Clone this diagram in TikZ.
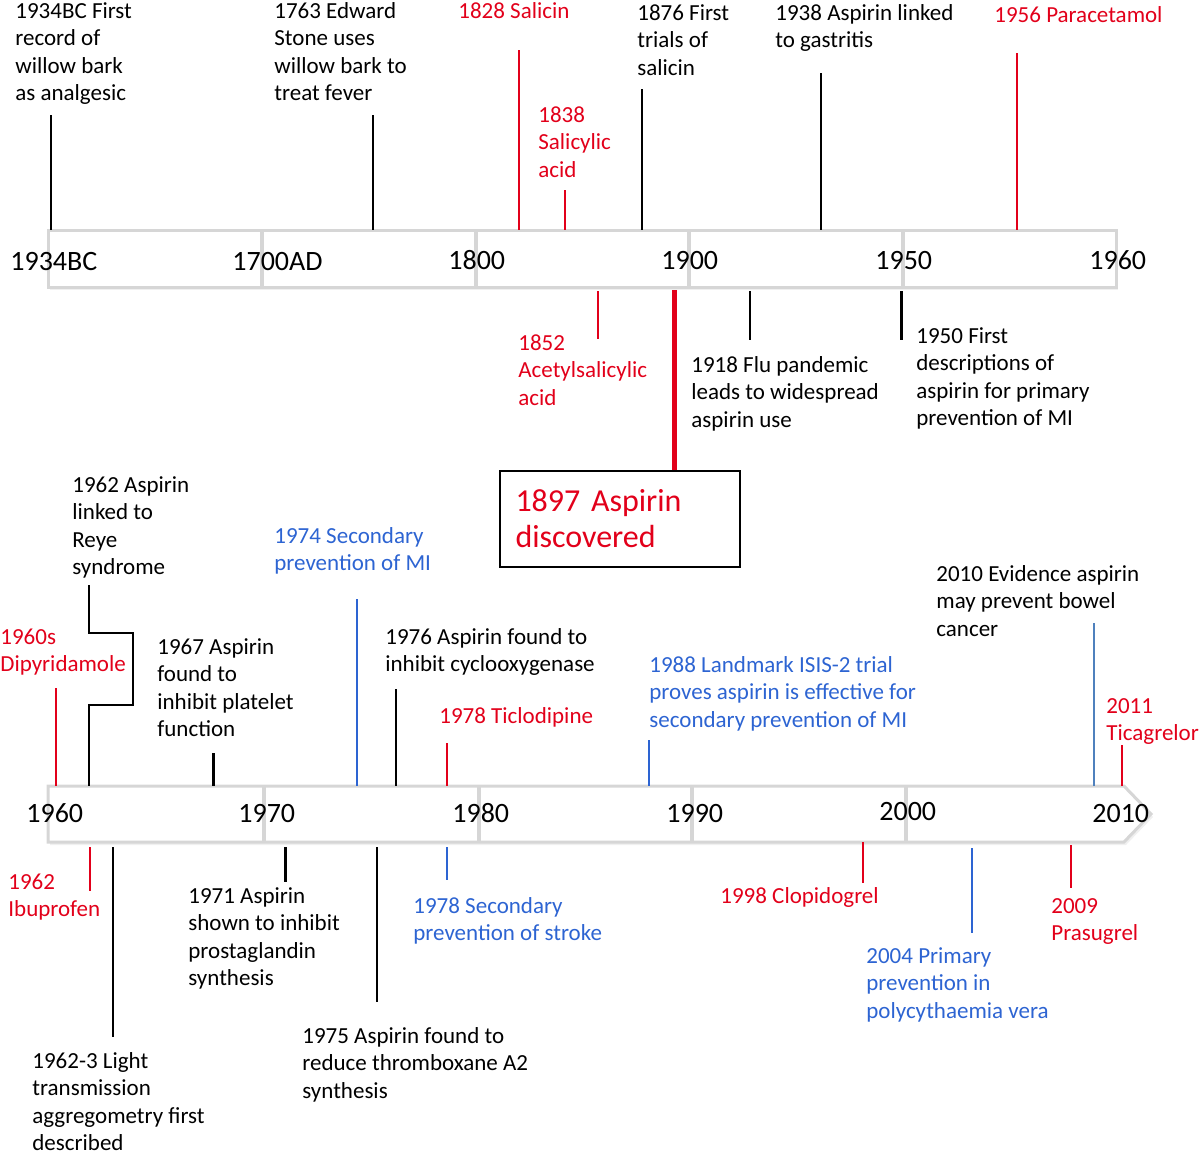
\documentclass[tikz,border=0pt]{standalone}
\usepackage{fontspec}
\setmainfont{Carlito}
\usetikzlibrary{shadows}
\definecolor{evred}{RGB}{226,0,26}
\definecolor{evblue}{RGB}{45,100,210}
\definecolor{steel}{RGB}{79,129,189}
\definecolor{bargray}{RGB}{214,214,214}
\tikzset{
  note/.style={anchor=base west, align=left, inner sep=0pt, font=\fontsize{11.5}{13.75}\selectfont},
  yearlbl/.style={anchor=base west, inner sep=0pt, font=\fontsize{14}{16}\selectfont},
  stem/.style={line width=1.2pt},
  drug/.style={evred, line width=1pt},
  trial/.style={evblue, line width=1pt},
  band/.style={draw=bargray, line width=1.5pt, fill=white, drop shadow={opacity=0.12, shadow xshift=1pt, shadow yshift=-1.5pt}},
  divline/.style={bargray, line width=2pt},
  discbox/.style={draw=black, line width=1pt, text=evred, align=left, text width=104pt, inner xsep=8pt, minimum height=48pt, font=\fontsize{16}{18}\selectfont}
}
\begin{document}
    \begin{tikzpicture}[x=0.5pt, y=-0.5pt]
      \useasboundingbox (0,0) rectangle (1200,1152);
      \node[band, minimum width=534pt, minimum height=28.5pt, outer sep=0pt] (upper) at (582,258.5) {};
      \draw[band] (48,786) coordinate (lower) -- (1124,786) -- (1151,814) -- (1124,842) -- (48,842) coordinate (lowerb) -- cycle;
      \draw[divline] (262,231) -- (262,286);
      \draw[divline] (476,231) -- (476,286);
      \draw[divline] (689,231) -- (689,286);
      \draw[divline] (903,231) -- (903,286);
      \draw[divline] (264,787) -- (264,841);
      \draw[divline] (479,787) -- (479,841);
      \draw[divline] (692,787) -- (692,841);
      \draw[divline] (906,787) -- (906,841);
      \path
        (10,270) node[yearlbl] (y1934) {1934BC}
        (232,270) node[yearlbl] (y1700) {1700AD}
        (448,269) node[yearlbl] (y1800) {1800}
        (661,269) node[yearlbl] (y1900) {1900}
        (875,269) node[yearlbl] (y1950) {1950}
        (1089,269) node[yearlbl] (y1960) {1960}
        (26,822) node[yearlbl] (z1960) {1960}
        (238,822) node[yearlbl] (z1970) {1970}
        (452,822) node[yearlbl] (z1980) {1980}
        (666,822) node[yearlbl] (z1990) {1990}
        (879,820) node[yearlbl] (z2000) {2000}
        (1092,822) node[yearlbl] (z2010) {2010};
      \path
        (15,100.5) node[note] (l1934) {1934BC First\\record of\\willow bark\\as analgesic}
        (274,100.5) node[note] (l1763) {1763 Edward\\Stone uses\\willow bark to\\treat fever}
        (458,18) node[note, evred] (l1828) {1828 Salicin}
        (538,177) node[note, evred] (l1838) {1838\\Salicylic\\acid}
        (637,75) node[note] (l1876) {1876 First\\trials of\\salicin}
        (775,47.5) node[note] (l1938) {1938 Aspirin linked\\to gastritis}
        (994,22) node[note, evred] (l1956) {1956 Paracetamol}
        (518,405) node[note, evred] (l1852) {1852\\Acetylsalicylic\\acid}
        (691,427) node[note] (l1918) {1918 Flu pandemic\\leads to widespread\\aspirin use}
        (916,425.5) node[note] (l1950) {1950 First\\descriptions of\\aspirin for primary\\prevention of MI};
      \node[discbox] (aspirin) at (619.5,519) {1897 Aspirin\\discovered};
      \path
        (72,574.5) node[note] (l1962r) {1962 Aspirin\\linked to\\Reye\\syndrome}
        (274,570.5) node[note, evblue] (l1974) {1974 Secondary\\prevention of MI}
        (0,671.5) node[note, evred] (l1960s) {1960s\\Dipyridamole}
        (157,736.5) node[note] (l1967) {1967 Aspirin\\found to\\inhibit platelet\\function}
        (385,671.5) node[note] (l1976) {1976 Aspirin found to\\inhibit cyclooxygenase}
        (439,723) node[note, evred] (l1978t) {1978 Ticlodipine}
        (649,727) node[note, evblue] (l1988) {1988 Landmark ISIS-2 trial\\proves aspirin is effective for\\secondary prevention of MI}
        (936,636) node[note] (l2010) {2010 Evidence aspirin\\may prevent bowel\\cancer}
        (1106,740.5) node[note, evred] (l2011) {2011\\Ticagrelor}
        (8,916.5) node[note, evred] (l1962i) {1962\\Ibuprofen}
        (32,1150.5) node[note] (l1962l) {1962-3 Light\\transmission\\aggregometry first\\described}
        (188,985.5) node[note] (l1971) {1971 Aspirin\\shown to inhibit\\prostaglandin\\synthesis}
        (302,1098) node[note] (l1975) {1975 Aspirin found to\\reduce thromboxane A2\\synthesis}
        (413,940.5) node[note, evblue] (l1978s) {1978 Secondary\\prevention of stroke}
        (720,903) node[note, evred] (l1998) {1998 Clopidogrel}
        (866,1018) node[note, evblue] (l2004) {2004 Primary\\prevention in\\polycythaemia vera}
        (1051,940.5) node[note, evred] (l2009) {2009\\Prasugrel};
      \path
        (51,115) coordinate (t1934) (373,115) coordinate (t1763)
        (518.5,50) coordinate (t1828) (565,190) coordinate (t1838)
        (642,89) coordinate (t1876) (821,73) coordinate (t1938)
        (1017,53) coordinate (t1956) (598,339) coordinate (t1852)
        (674.5,290) coordinate (t1897) (750,340) coordinate (t1918)
        (901.5,340) coordinate (t1950)
        (55.5,688) coordinate (t1960s) (89,585) coordinate (t1962r)
        (213.5,753) coordinate (t1967) (357,599) coordinate (t1974)
        (396,689) coordinate (t1976) (447,743) coordinate (t1978t)
        (648.6,740) coordinate (t1988) (1094,623) coordinate (t2010)
        (1122,745) coordinate (t2011)
        (90,891) coordinate (t1962i) (112.7,1037) coordinate (t1962l)
        (285.5,882) coordinate (t1971) (377,1002) coordinate (t1975)
        (447,880) coordinate (t1978s) (863,883) coordinate (t1998)
        (972,933) coordinate (t2004) (1071,888) coordinate (t2009);
      \begin{scope}[stem]
        \draw (t1934) to (t1934 |- upper.north);
        \draw (t1763) to (t1763 |- upper.north);
        \draw (t1876) to (t1876 |- upper.north);
        \draw (t1938) to (t1938 |- upper.north);
        \draw[shorten <=2pt] (t1918 |- upper.south) to (t1918);
        \draw[shorten <=2pt] (t1950 |- upper.south) to (t1950);
        \draw (t1962r) -- ++(0,48) -- ++(44,0) -- ++(0,72) -- ++(-44,0) -- (t1962r |- lower);
        \draw (t1967) to (t1967 |- lower);
        \draw (t1976) to (t1976 |- lower);
        \draw[shorten <=2.5pt] (t1962l |- lowerb) to (t1962l);
        \draw[shorten <=2.5pt] (t1971 |- lowerb) to (t1971);
        \draw[shorten <=2.5pt] (t1975 |- lowerb) to (t1975);
      \end{scope}
      \begin{scope}[drug]
        \draw (t1828) to (t1828 |- upper.north);
        \draw (t1838) to (t1838 |- upper.north);
        \draw (t1956) to (t1956 |- upper.north);
        \draw[shorten <=2pt] (t1852 |- upper.south) to (t1852);
        \draw[line width=2.5pt] (t1897) to (t1897 |- aspirin.north);
        \draw (t1960s) to (t1960s |- lower);
        \draw (t1978t) to (t1978t |- lower);
        \draw (t2011) to (t2011 |- lower);
        \draw[shorten <=2.5pt] (t1962i |- lowerb) to (t1962i);
        \draw (t1998 |- lowerb) to (t1998);
        \draw[shorten <=1.5pt] (t2009 |- lowerb) to (t2009);
      \end{scope}
      \begin{scope}[trial]
        \draw (t1974) to (t1974 |- lower);
        \draw (t1988) to (t1988 |- lower);
        \draw[steel] (t2010) to (t2010 |- lower);
        \draw[shorten <=2.5pt] (t1978s |- lowerb) to (t1978s);
        \draw[shorten <=3pt] (t2004 |- lowerb) to (t2004);
      \end{scope}
    \end{tikzpicture}
\end{document}
